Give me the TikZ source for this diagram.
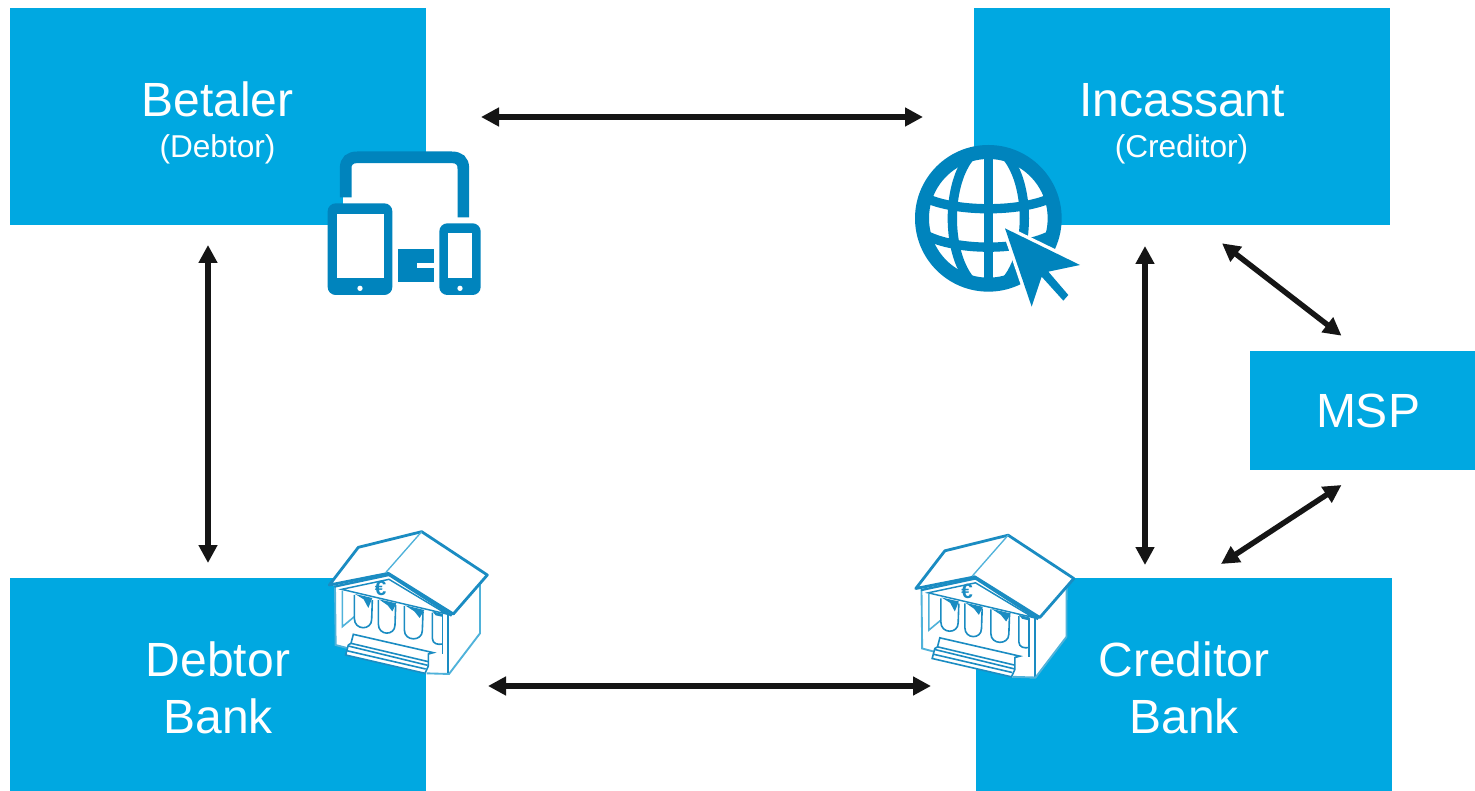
\documentclass[tikz,border=0pt]{standalone}
\usepackage{fontspec}
\setmainfont{Liberation Sans}
\usetikzlibrary{arrows.meta}
\definecolor{boxblue}{HTML}{00A8E1}
\definecolor{icondark}{HTML}{0084BD}
\definecolor{bankdark}{HTML}{1A8CC2}
\definecolor{banklight}{HTML}{4FB2DA}
\definecolor{arrowblack}{HTML}{151515}
\tikzset{
  x=0.75pt, y=-0.75pt,
  box/.style={fill=boxblue, draw=none, inner sep=0pt, outer sep=0pt, minimum width=#1*0.75pt},
  bigtext/.style={text=white, font=\fontsize{36}{43}\selectfont, align=center, inner sep=0pt},
  smalltext/.style={text=white, font=\fontsize{23.7}{28}\selectfont, align=center, inner sep=0pt},
  arr/.style={line width=4.1pt, color=arrowblack, {Triangle[length=13.5pt,width=13.5pt]}-{Triangle[length=13.5pt,width=13.5pt]}},
  bankicon/.pic={
    % white silhouette
    \fill[white] (43,195) -- (130,82) -- (320,35) -- (517,165) -- (497,190) -- (495,340) -- (402,464) -- (335,462) -- (92,405) -- (100,385) -- (62,375) -- (60,197) -- cycle;
    % back wall
    \draw[banklight, line width=1.2pt] (82,212) -- (82,320) -- (118,290);
    \draw[bankdark, line width=1pt] (382,283) -- (382,402);
    % column shades
    \fill[bankdark] (120,222) -- (172,234) -- (160,264) -- (146,238) -- cycle;
    \fill[bankdark] (192,238) -- (244,250) -- (232,274) -- (218,256) -- cycle;
    \fill[bankdark] (270,256) -- (328,270) -- (314,294) -- (298,274) -- cycle;
    \fill[bankdark] (352,274) -- (384,282) -- (380,290) -- (362,286) -- cycle;
    % columns
    \draw[bankdark, line width=1.2pt] (118,225) -- (118,295) .. controls (118,332) and (170,332) .. (170,298) -- (172,240);
    \draw[bankdark, line width=1.2pt] (190,240) -- (190,312) .. controls (190,348) and (240,348) .. (240,315) -- (242,255);
    \draw[bankdark, line width=1.2pt] (268,258) -- (268,330) .. controls (268,365) and (322,365) .. (322,332) -- (324,275);
    \draw[bankdark, line width=1.2pt] (352,278) -- (352,355) .. controls (352,372) and (370,375) .. (382,372);
    % walls
    \draw[banklight, line width=1.4pt] (60,200) -- (62,375) -- (100,385);
    \draw[bankdark, line width=1.4pt] (400,285) -- (400,462);
    \draw[banklight, line width=1.4pt] (495,195) -- (495,340) -- (402,462) -- (335,460);
    % steps
    \draw[bankdark, line width=1.2pt, fill=white] (115,343) -- (355,398) -- (340,402) -- (340,438) -- (330,460) -- (92,405) -- (100,375) -- (108,370) -- cycle;
    \draw[bankdark, line width=1.2pt] (108,370) -- (340,425);
    \draw[bankdark, line width=1.2pt] (100,378) -- (338,436);
    \draw[bankdark, line width=1.2pt] (95,392) -- (332,447);
    % pediment
    \draw[bankdark, line width=1.7pt] (58,200) -- (222,165) -- (410,287);
    \draw[bankdark, line width=1.1pt] (80,208) -- (222,178) -- (395,282) -- cycle;
    % roof
    \draw[bankdark, line width=2.1pt, line join=round] (43,195) -- (130,82) -- (320,35) -- (517,165) -- (415,282) -- (220,160) -- cycle;
    \draw[banklight, line width=1pt] (320,35) -- (212,158);
    \node[text=bankdark, font=\bfseries\fontsize{15.5}{15.5}\selectfont, inner sep=0pt] (euro) at (197,204) {€};
  }
}
\begin{document}
\begin{tikzpicture}
\useasboundingbox (0,0) rectangle (1475,791);
\fill[white] (0,0) rectangle (1475,791);

% boxes
\node[box=416, minimum height=162.75pt] (betaler) at (218,116.5) {};
\node[box=416, minimum height=162.75pt] (incassant) at (1182,116.5) {};
\node[box=416, minimum height=159.75pt] (debtorbank) at (218,684.5) {};
\node[box=416, minimum height=159.75pt] (creditorbank) at (1184,684.5) {};
\node[box=225, minimum height=89.25pt] (msp) at (1362.5,410.5) {};

% labels
\node[bigtext] (t1) at (217.5,99) {Betaler};
\node[smalltext] (t2) at (217.5,149) {(Debtor)};
\node[bigtext] (t3) at (1182,100) {Incassant};
\node[smalltext] (t4) at (1181.5,149) {(Creditor)};
\node[bigtext] (t5) at (1368,411) {MSP};
\node[bigtext] (t6) at (218,688) {Debtor\\Bank};
\node[bigtext] (t7) at (1184,688) {Creditor\\Bank};

% devices icon
\begin{scope}[shift={(310,140)}, scale=1/3]
  \fill[white] (100,62) rectangle (445,262);
  \draw[icondark, line width=8.75pt] (107,172) -- (107,85) .. controls (107,62) and (120,52) .. (142,52) -- (425,52) .. controls (447,52) and (460,62) .. (460,85) -- (460,232);
  \fill[icondark, rounded corners=6pt] (53,190) rectangle (247,465);
  \fill[white] (80,222) rectangle (222,415);
  \fill[white] (150,445) circle[radius=8];
  \fill[icondark] (265,327) rectangle (372,427);
  \fill[white] (320,370) rectangle (373,385);
  \fill[icondark, rounded corners=6pt] (388,250) rectangle (512,465);
  \fill[white] (415,280) rectangle (487,415);
  \fill[white] (450,445) circle[radius=8];
\end{scope}

% globe icon
\begin{scope}[shift={(900,135)}, scale=1/3]
  \fill[white] (265,250) circle[radius=200];
  \begin{scope}
    \clip (265,250) circle[radius=200];
    \draw[icondark, line width=7pt] (265,250) ellipse[x radius=108, y radius=215];
    \draw[icondark, line width=7pt] (265,30) -- (265,470);
    \draw[icondark, line width=7pt] (60,180) .. controls (150,235) and (380,235) .. (470,180);
    \draw[icondark, line width=7pt] (60,290) .. controls (150,352) and (380,352) .. (470,290);
  \end{scope}
  \draw[icondark, line width=10.5pt] (265,250) circle[radius=199];
  \fill[icondark, draw=white, line width=5pt, line join=miter] (315,280) -- (540,390) -- (445,410) -- (505,480) -- (490,497) -- (425,425) -- (395,515) -- cycle;
  \fill[icondark] (315,280) -- (540,390) -- (445,410) -- (505,480) -- (490,497) -- (425,425) -- (395,515) -- cycle;
\end{scope}

% bank icons
\pic[scale=1/3] (bankA) at (315,520) {bankicon};
\pic[scale=1/3] (bankB) at (901.5,523.5) {bankicon};

% connectors
\draw[arr] ([shift={(55,0.5)}]betaler.east) -- ([shift={(-51,0.5)}]incassant.west);
\draw[arr] ([shift={(-10,20)}]betaler.south) -- ([shift={(-10,-15)}]debtorbank.north);
\draw[arr] ([shift={(62,1.5)}]debtorbank.east) -- ([shift={(-45,1.5)}]creditorbank.west);
\draw[arr] ([shift={(-37,21)}]incassant.south) -- ([shift={(-39,-13)}]creditorbank.north);
\draw[arr] ([shift={(40,18.3)}]incassant.south) -- ([shift={(-21,-15.3)}]msp.north);
\draw[arr] ([shift={(-21,15)}]msp.south) -- ([shift={(37,-14)}]creditorbank.north);
\end{tikzpicture}
\end{document}
